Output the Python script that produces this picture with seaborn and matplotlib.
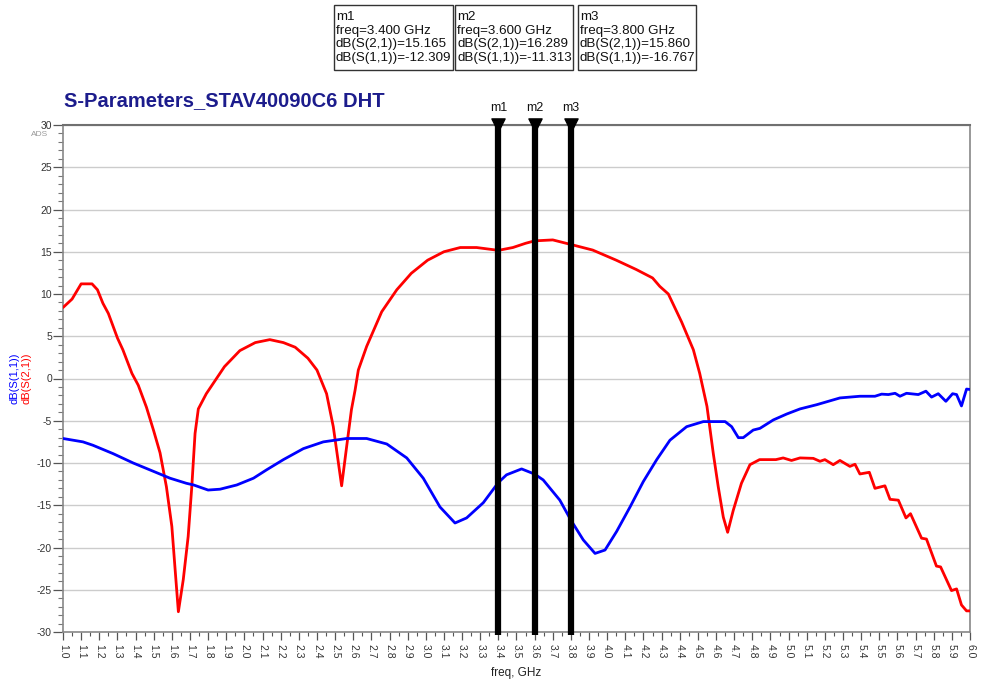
import numpy as np
import pandas as pd
import matplotlib
matplotlib.use("Agg")
import matplotlib.pyplot as plt
from matplotlib.ticker import MultipleLocator, FormatStrFormatter
from matplotlib.patches import Rectangle
import seaborn as sns

# ---------------- data ----------------
s21_freq = [1.0, 1.05, 1.1, 1.16, 1.19, 1.22, 1.25, 1.3, 1.33, 1.38, 1.415, 1.46, 1.5, 1.535,
            1.57, 1.6, 1.617, 1.636, 1.663, 1.69, 1.71, 1.728, 1.746, 1.79, 1.84, 1.89, 1.975,
            2.06, 2.14, 2.215, 2.28, 2.35, 2.4, 2.453, 2.49, 2.536, 2.564, 2.59, 2.61, 2.628,
            2.674, 2.757, 2.84, 2.92, 3.01, 3.1, 3.19, 3.28, 3.37, 3.4, 3.48, 3.55, 3.6, 3.7,
            3.8, 3.92, 4.05, 4.16, 4.25, 4.29, 4.337, 4.41, 4.475, 4.51, 4.55, 4.585, 4.612,
            4.64, 4.664, 4.695, 4.74, 4.787, 4.84, 4.93, 4.97, 5.016, 5.063, 5.136, 5.173, 5.2,
            5.246, 5.283, 5.338, 5.366, 5.393, 5.445, 5.476, 5.531, 5.559, 5.605, 5.647, 5.672,
            5.733, 5.76, 5.815, 5.838, 5.898, 5.926, 5.953, 5.981, 6.0]
s21_db = [8.4, 9.4, 11.2, 11.2, 10.5, 8.9, 7.7, 4.8, 3.4, 0.6, -0.8, -3.4, -6.2, -8.8,
          -12.8, -17.5, -22.3, -27.6, -23.8, -18.7, -12.8, -6.5, -3.6, -1.8, -0.2, 1.4, 3.3,
          4.25, 4.6, 4.25, 3.7, 2.4, 1.0, -1.8, -5.7, -12.7, -8.0, -3.7, -1.4, 1.0,
          3.8, 7.9, 10.5, 12.45, 14.0, 15.0, 15.5, 15.5, 15.25, 15.165, 15.5, 16.0, 16.289, 16.4,
          15.86, 15.2, 14.0, 12.9, 11.9, 10.9, 10.0, 6.7, 3.4, 0.6, -3.3, -8.9, -12.8,
          -16.4, -18.2, -15.6, -12.4, -10.2, -9.6, -9.6, -9.4, -9.7, -9.4, -9.45, -9.8, -9.6,
          -10.2, -9.7, -10.4, -10.15, -11.3, -11.1, -13.0, -12.7, -14.3, -14.4, -16.5, -16.0,
          -18.9, -19.0, -22.2, -22.3, -25.1, -24.9, -26.8, -27.5, -27.5]

s11_freq = [1.0, 1.11, 1.165, 1.277, 1.387, 1.5, 1.59, 1.68, 1.72, 1.8, 1.866, 1.958, 2.05,
            2.123, 2.215, 2.325, 2.435, 2.564, 2.674, 2.785, 2.895, 2.986, 3.078, 3.161, 3.225,
            3.317, 3.4, 3.445, 3.528, 3.6, 3.647, 3.739, 3.8, 3.868, 3.933, 3.988, 4.052, 4.126,
            4.199, 4.273, 4.346, 4.438, 4.53, 4.65, 4.686, 4.723, 4.75, 4.805, 4.842, 4.916,
            4.99, 5.063, 5.155, 5.283, 5.393, 5.476, 5.513, 5.55, 5.587, 5.614, 5.65, 5.715,
            5.757, 5.788, 5.825, 5.867, 5.904, 5.926, 5.953, 5.981, 6.0]
s11_db = [-7.1, -7.5, -7.9, -8.9, -10.0, -11.0, -11.8, -12.4, -12.6, -13.2, -13.1, -12.6, -11.8,
          -10.8, -9.6, -8.3, -7.5, -7.1, -7.1, -7.75, -9.4, -11.8, -15.2, -17.1, -16.5,
          -14.7, -12.309, -11.4, -10.7, -11.313, -12.0, -14.4, -16.767, -19.1, -20.7, -20.3, -18.1, -15.2,
          -12.2, -9.6, -7.3, -5.7, -5.1, -5.1, -5.7, -7.0, -7.0, -6.1, -5.9, -4.9,
          -4.2, -3.6, -3.1, -2.3, -2.1, -2.1, -1.85, -1.9, -1.75, -2.1, -1.75, -1.9,
          -1.5, -2.2, -1.8, -2.7, -1.8, -1.9, -3.25, -1.25, -1.3]

marker_names = ["m1", "m2", "m3"]
marker_freqs = [3.4, 3.6, 3.8]
marker_s21 = ["15.165", "16.289", "15.860"]
marker_s11 = ["-12.309", "-11.313", "-16.767"]

title = "S-Parameters_STAV40090C6 DHT"

# ---------------- style ----------------
sns.set_style("white")
plt.rcParams['font.family'] = ['Liberation Sans', 'DejaVu Sans']
plt.rcParams['axes.unicode_minus'] = False

df = pd.concat([
    pd.DataFrame({"freq": s21_freq, "dB": s21_db, "trace": "dB(S(2,1))"}),
    pd.DataFrame({"freq": s11_freq, "dB": s11_db, "trace": "dB(S(1,1))"}),
], ignore_index=True)

fig = plt.figure(figsize=(9.82, 6.8), dpi=100)
ax = fig.add_axes([63/982, 1-632/680, (970-63)/982, (632-125)/680])

sns.lineplot(data=df, x="freq", y="dB", hue="trace", estimator=None, sort=False,
             palette={"dB(S(2,1))": "#ff0000", "dB(S(1,1))": "#0000ff"},
             linewidth=2.0, legend=False, ax=ax, zorder=3)

ax.set_xlim(1.0, 6.0)
ax.set_ylim(-30, 30)

ax.xaxis.set_major_locator(MultipleLocator(0.1))
ax.xaxis.set_minor_locator(MultipleLocator(0.05))
ax.xaxis.set_major_formatter(FormatStrFormatter('%.1f'))
ax.yaxis.set_major_locator(MultipleLocator(5))
ax.yaxis.set_minor_locator(MultipleLocator(1))

ax.tick_params(axis='x', which='major', direction='out', length=6, width=0.9, color='#555555',
               labelsize=7.5, labelcolor='#333333', labelrotation=-90, pad=3)
ax.tick_params(axis='x', which='minor', direction='out', length=3, width=0.8, color='#555555')
ax.tick_params(axis='y', which='major', direction='out', length=7, width=0.9, color='#555555',
               labelsize=7.5, labelcolor='#333333', pad=1)
ax.tick_params(axis='y', which='minor', direction='out', length=3.5, width=0.8, color='#777777')
ax.tick_params(bottom=True, left=True, which='both')

ax.yaxis.grid(True, which='major', color='#cccccc', linewidth=1.0)
ax.xaxis.grid(False)
for side in ['left', 'right', 'bottom']:
    ax.spines[side].set_color('#888888')
    ax.spines[side].set_linewidth(1.2)
ax.spines['top'].set_color('#707070')
ax.spines['top'].set_linewidth(1.5)

ax.set_xlabel("freq, GHz", fontsize=8.5, color='#222222', labelpad=6)
ax.set_ylabel("")

# y labels (two colored rotated texts)
fig.text(15/982, 1-378/680, "dB(S(1,1))", rotation=90, color='#0000ff', fontsize=8,
         ha='center', va='center')
fig.text(26/982, 1-378/680, "dB(S(2,1))", rotation=90, color='#ff0000', fontsize=8,
         ha='center', va='center')
fig.text(40/982, 1-134/680, "ADS", color='#999999', fontsize=6, ha='center', va='center')

# title
fig.text(64/982, 1-101/680, title, fontsize=14.5, fontweight='bold', color='#1c1c8c',
         ha='left', va='center')

# markers
ax.vlines(marker_freqs, -30.4, 30, colors='black', linewidth=4.5, zorder=5, clip_on=False)
ax.scatter(marker_freqs, [30] * len(marker_freqs), marker='v', s=90, color='black',
           zorder=6, clip_on=False)
for name, f in zip(marker_names, marker_freqs):
    ax.annotate(name, (f, 30), xytext=(0, 8), textcoords='offset points', ha='center',
                va='bottom', fontsize=9, color='#111111', annotation_clip=False)

# marker readout table
box_lefts = [334, 455, 578]
box_rights = [453, 573, 696]
for i, (name, f) in enumerate(zip(marker_names, marker_freqs)):
    x0, x1 = box_lefts[i], box_rights[i]
    fig.patches.append(Rectangle((x0/982, 1-70/680), (x1-x0)/982, 65/680,
                                 transform=fig.transFigure, fill=False,
                                 edgecolor='#333333', linewidth=1.0))
    lines = [name, f"freq={f:.3f} GHz", f"dB(S(2,1))={marker_s21[i]}",
             f"dB(S(1,1))={marker_s11[i]}"]
    for j, t in enumerate(lines):
        fig.text((x0 + 2)/982, 1-(17 + 13.6*j)/680, t, fontsize=9.6, color='#111111',
                 ha='left', va='center')

fig.savefig("out.png", dpi=100, facecolor='white')
